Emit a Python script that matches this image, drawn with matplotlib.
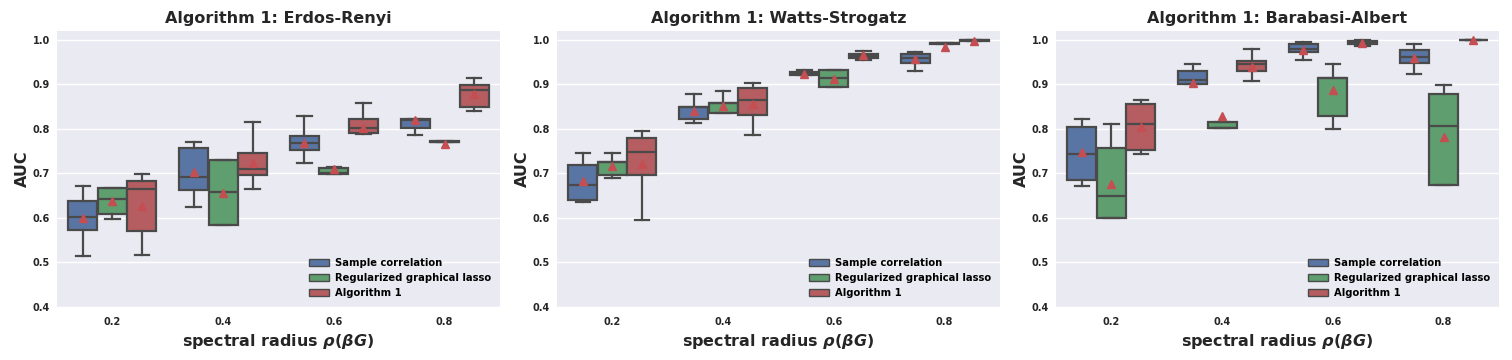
import colorsys
import numpy as np
import matplotlib
matplotlib.use("Agg")
import matplotlib.pyplot as plt
from matplotlib.patches import Patch

radii = ["0.2", "0.4", "0.6", "0.8"]
methods = ["Sample correlation", "Regularized graphical lasso", "Algorithm 1"]
titles = ["Algorithm 1: Erdos-Renyi", "Algorithm 1: Watts-Strogatz", "Algorithm 1: Barabasi-Albert"]

# box stats: [whislo, q1, med, q3, whishi, mean] per radius, per method
er_sample = [[0.514, 0.572, 0.602, 0.637, 0.672, 0.599],
             [0.624, 0.662, 0.691, 0.757, 0.771, 0.703],
             [0.724, 0.753, 0.769, 0.784, 0.829, 0.768],
             [0.786, 0.801, 0.821, 0.822, 0.822, 0.820]]
er_glasso = [[0.597, 0.608, 0.642, 0.667, 0.667, 0.637],
             [0.584, 0.584, 0.658, 0.730, 0.730, 0.657],
             [0.698, 0.698, 0.700, 0.712, 0.715, 0.709],
             [0.770, 0.770, 0.771, 0.772, 0.772, 0.767]]
er_alg1 = [[0.516, 0.571, 0.664, 0.682, 0.698, 0.626],
           [0.665, 0.697, 0.711, 0.746, 0.816, 0.723],
           [0.788, 0.790, 0.801, 0.822, 0.859, 0.801],
           [0.840, 0.849, 0.888, 0.898, 0.915, 0.878]]

ws_sample = [[0.636, 0.640, 0.674, 0.718, 0.745, 0.682],
             [0.813, 0.822, 0.849, 0.849, 0.879, 0.840],
             [0.921, 0.921, 0.924, 0.927, 0.933, 0.924],
             [0.930, 0.948, 0.960, 0.969, 0.972, 0.957]]
ws_glasso = [[0.690, 0.697, 0.725, 0.725, 0.745, 0.717],
             [0.836, 0.836, 0.858, 0.858, 0.885, 0.851],
             [0.894, 0.894, 0.915, 0.933, 0.933, 0.912],
             [0.991, 0.991, 0.992, 0.993, 0.993, 0.984]]
ws_alg1 = [[0.596, 0.697, 0.748, 0.780, 0.796, 0.721],
           [0.786, 0.831, 0.864, 0.891, 0.903, 0.855],
           [0.954, 0.959, 0.964, 0.969, 0.975, 0.965],
           [0.998, 0.998, 0.999, 1.000, 1.000, 0.997]]

ba_sample = [[0.672, 0.685, 0.743, 0.804, 0.822, 0.748],
             [0.900, 0.900, 0.910, 0.930, 0.946, 0.903],
             [0.955, 0.972, 0.979, 0.990, 0.996, 0.978],
             [0.924, 0.948, 0.961, 0.978, 0.990, 0.960]]
ba_glasso = [[0.599, 0.599, 0.649, 0.757, 0.810, 0.677],
             [0.801, 0.801, 0.801, 0.816, 0.816, 0.829],
             [0.800, 0.828, 0.914, 0.914, 0.946, 0.887],
             [0.674, 0.674, 0.806, 0.878, 0.899, 0.783]]
ba_alg1 = [[0.743, 0.752, 0.810, 0.855, 0.865, 0.804],
           [0.908, 0.930, 0.946, 0.952, 0.980, 0.939],
           [0.987, 0.990, 0.994, 0.998, 1.000, 0.994],
           [1.000, 1.000, 1.000, 1.000, 1.000, 1.000]]

panels = [[er_sample, er_glasso, er_alg1],
          [ws_sample, ws_glasso, ws_alg1],
          [ba_sample, ba_glasso, ba_alg1]]


def desat(c, prop=0.75):
    h, l, s = colorsys.rgb_to_hls(*matplotlib.colors.to_rgb(c))
    return colorsys.hls_to_rgb(h, l, s * prop)


deep = ["#4C72B0", "#55A868", "#C44E52"]
colors = [desat(c) for c in deep]
gray = "#4a4a4a"

plt.rcParams.update({
    "font.family": "DejaVu Sans",
    "font.weight": "bold",
    "axes.facecolor": "#EAEAF2",
    "axes.edgecolor": "white",
    "grid.color": "white",
})

fig = plt.figure(figsize=(15.12, 3.6), dpi=100)
lefts = [57, 557, 1056]

for k, (title, data) in enumerate(zip(titles, panels)):
    ax = fig.add_axes([lefts[k] / 1512, 53 / 360, 443 / 1512, 276 / 360])
    ax.set_axisbelow(True)
    ax.grid(axis="y", color="white", linewidth=1.0)
    each = 0.8 / 3
    for j, series in enumerate(data):
        stats = []
        for s in series:
            stats.append(dict(whislo=s[0], q1=s[1], med=s[2], q3=s[3], whishi=s[4], mean=s[5]))
        pos = np.arange(4) - 0.4 + each / 2 + j * each
        ax.bxp(stats, positions=pos, widths=each * 0.98, patch_artist=True,
               showmeans=True, showfliers=False, manage_ticks=False,
               boxprops=dict(facecolor=colors[j], edgecolor=gray, linewidth=1.6),
               medianprops=dict(color=gray, linewidth=1.6),
               whiskerprops=dict(color=gray, linewidth=1.6),
               capprops=dict(color=gray, linewidth=1.6),
               meanprops=dict(marker="^", markerfacecolor="#C44E52",
                              markeredgecolor="#C44E52", markersize=5.5))
    ax.set_xlim(-0.5, 3.5)
    ax.set_ylim(0.4, 1.02)
    ax.set_xticks(range(4))
    ax.set_xticklabels(radii)
    ax.set_yticks([0.4, 0.5, 0.6, 0.7, 0.8, 0.9, 1.0])
    ax.tick_params(axis="x", length=0, labelsize=7, pad=7, colors="#262626")
    ax.tick_params(axis="y", length=0, labelsize=7, pad=5, colors="#262626")
    for sp in ax.spines.values():
        sp.set_visible(False)
    ax.set_title(title, fontsize=11.5, fontweight="bold", color="#262626")
    ax.set_xlabel(r"spectral radius $\rho(\beta G)$", fontsize=11.5, fontweight="bold", color="#262626")
    ax.set_ylabel("AUC", fontsize=11.5, fontweight="bold", color="#262626", labelpad=2)
    handles = [Patch(facecolor=colors[j], edgecolor=gray, linewidth=1.0, label=methods[j]) for j in range(3)]
    ax.legend(handles=handles, loc="lower right", frameon=False, fontsize=7.2, handletextpad=0.6)

fig.savefig("out.png", dpi=100)
